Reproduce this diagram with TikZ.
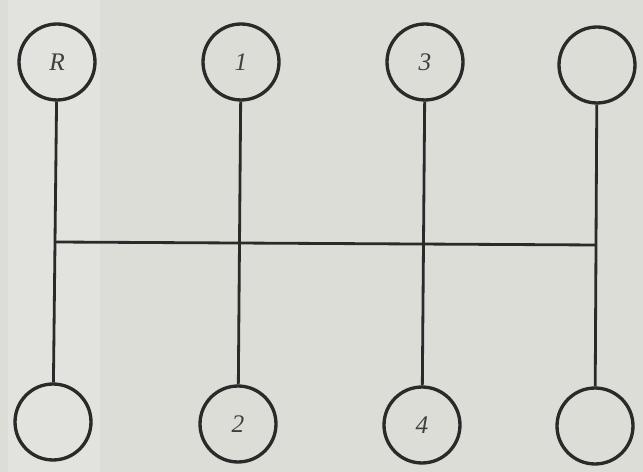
\documentclass[tikz,border=0pt]{standalone}
\usetikzlibrary{positioning}
\usepackage{xcolor}
\usepackage{fontspec}
\setmainfont{Liberation Serif}
\definecolor{paper}{RGB}{221,221,216}
\definecolor{paperlight}{RGB}{226,226,222}
\definecolor{ink}{RGB}{44,41,41}
\tikzset{
  gate/.style={circle, draw=ink, line width=1.9pt, minimum size=1.52cm, inner sep=0pt, font=\Large\itshape, text=ink!90},
  rail/.style={draw=ink, line width=1.6pt}
}
\begin{document}
\begin{tikzpicture}[x=0.02cm, y=-0.02cm]
\fill[paper] (0,0) rectangle (643,472);
\fill[paperlight] (8,0) rectangle (100,472);
\node[gate] (rev) at (57,62) {R};
\node[gate] (first) at (241,62) {1};
\node[gate] (third) at (425,62) {3};
\node[gate] (fifth) at (597,65) {};
\node[gate] (low) at (53,422) {};
\node[gate] (second) at (238,424) {2};
\node[gate] (fourth) at (422,425) {4};
\node[gate] (sixth) at (595,426) {};
\coordinate (shiftl) at (55,242);
\coordinate (shiftr) at (596,245);
\foreach \a/\b in {rev/low,first/second,third/fourth,fifth/sixth}{\draw[rail] (\a) -- (\b);}
\draw[rail] (shiftl) -- (shiftr);
\end{tikzpicture}
\end{document}
